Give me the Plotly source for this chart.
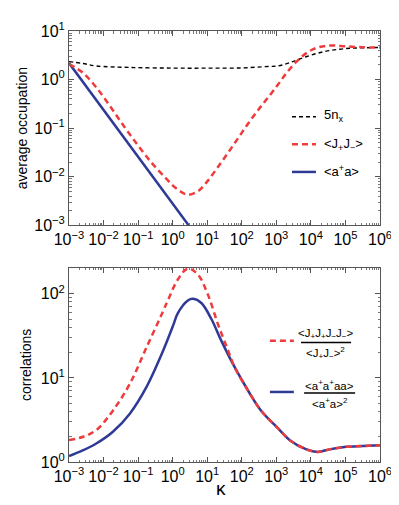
import numpy as np
import plotly.graph_objects as go
from plotly.subplots import make_subplots

# values, as log10 of kappa and log10 of the quantity
# top panel: average occupation
nx_logk = [-3, -2.59, -2.21, -1.24, 0.0, 1.0, 2.0, 2.76, 3.05, 3.39, 3.86, 4.35, 4.83, 5.30, 6.0]
nx_logy = [0.37, 0.33, 0.28, 0.25, 0.236, 0.235, 0.24, 0.27, 0.28, 0.35, 0.47, 0.57, 0.625, 0.65, 0.66]

jj_logk = [-3, -2.6, -2.2, -1.8, -1.4, -1.0, -0.6, -0.2, 0.1, 0.44, 0.75, 1.02, 1.31,
           1.60, 1.89, 2.18, 2.47, 2.76, 3.05, 3.3, 3.6, 3.9, 4.2, 4.55, 5.0, 5.5, 6.0]
jj_logy = [0.32, 0.14, -0.17, -0.56, -0.97, -1.36, -1.72, -2.03, -2.24, -2.37, -2.29, -2.08, -1.80,
           -1.51, -1.21, -0.91, -0.63, -0.37, -0.10, 0.14, 0.38, 0.56, 0.66, 0.70, 0.685, 0.665, 0.66]

aa_logk = [-3, -2, -1, 0, 1]
aa_logy = [0.34, -0.63, -1.59, -2.56, -3.52]

# bottom panel: correlations
g2a_logk = [-3, -2.59, -2.21, -1.73, -1.24, -0.76, -0.28, 0.01, 0.15, 0.44, 0.59, 0.83, 1.12,
            1.41, 1.79, 2.18, 2.56, 3.05, 3.39, 3.87, 4.20, 4.54, 5.02, 5.51, 6.0]
g2a_logy = [0.07, 0.14, 0.22, 0.36, 0.575, 0.89, 1.32, 1.62, 1.77, 1.92, 1.94, 1.89, 1.70,
            1.44, 1.13, 0.85, 0.61, 0.40, 0.26, 0.15, 0.12, 0.15, 0.18, 0.19, 0.20]

g2j_logk = [-3, -2.59, -2.21, -1.73, -1.24, -0.76, -0.28, -0.14, 0.15, 0.44, 0.73, 1.02, 1.31,
            1.6, 1.79, 2.18, 2.56, 3.05, 3.39, 3.87, 4.20, 4.54, 5.02, 5.51, 6.0]
g2j_logy = [0.26, 0.30, 0.38, 0.61, 0.93, 1.36, 1.79, 1.92, 2.17, 2.30, 2.23, 1.99, 1.64,
            1.33, 1.13, 0.85, 0.61, 0.40, 0.26, 0.15, 0.12, 0.15, 0.18, 0.19, 0.20]

x_exps = [-3, -2, -1, 0, 1, 2, 3, 4, 5, 6]
top_exps = [-3, -2, -1, 0, 1]
bot_exps = [0, 1, 2]

RED = "#EF3B3B"
BLUE = "#2E3A96"
FONT = "Liberation Sans, Arial, sans-serif"


def p(v):
    return np.power(10.0, v)


def tick_text(exps):
    return ["10<sup>%s</sup>" % str(e).replace("-", "−") for e in exps]


fig = make_subplots(rows=2, cols=1, vertical_spacing=0.0985)

fig.add_trace(go.Scatter(x=p(nx_logk), y=p(nx_logy), mode="lines", line_shape="spline",
                         line=dict(color="black", width=1.4, dash="4px,3px")), row=1, col=1)
fig.add_trace(go.Scatter(x=p(aa_logk), y=p(aa_logy), mode="lines",
                         line=dict(color=BLUE, width=2.5)), row=1, col=1)
fig.add_trace(go.Scatter(x=p(jj_logk), y=p(jj_logy), mode="lines", line_shape="spline",
                         line=dict(color=RED, width=2.5, dash="6px,4px")), row=1, col=1)

fig.add_trace(go.Scatter(x=p(g2a_logk), y=p(g2a_logy), mode="lines", line_shape="spline",
                         line=dict(color=BLUE, width=2.5)), row=2, col=1)
fig.add_trace(go.Scatter(x=p(g2j_logk), y=p(g2j_logy), mode="lines", line_shape="spline",
                         line=dict(color=RED, width=2.5, dash="6px,4px")), row=2, col=1)

axis_style = dict(type="log", showgrid=False, zeroline=False, showline=True, mirror="ticks",
                  linecolor="#555", linewidth=1, ticks="inside", ticklen=5, tickcolor="#555",
                  tickangle=0,
                  tickfont=dict(family=FONT, size=16, color="black"),
                  minor=dict(ticks="inside", ticklen=2.5, tickcolor="#777", showgrid=False, dtick="D1"))

fig.update_xaxes(**axis_style, range=[-3, 6],
                 tickvals=p(x_exps), ticktext=tick_text(x_exps))
fig.update_yaxes(**axis_style)
fig.update_yaxes(range=[-3, 1], row=1, col=1, tickvals=p(top_exps), ticktext=tick_text(top_exps),
                 title=dict(text="average occupation", font=dict(family=FONT, size=14, color="black"),
                            standoff=3))
fig.update_yaxes(range=[0, 2.31], row=2, col=1, tickvals=p(bot_exps), ticktext=tick_text(bot_exps),
                 title=dict(text="correlations", font=dict(family=FONT, size=14, color="black"),
                            standoff=5))


# hand-made legends
def key(x0, x1, y, color, width, dash):
    fig.add_shape(type="line", xref="paper", yref="paper", x0=x0, x1=x1, y0=y, y1=y,
                  line=dict(color=color, width=width, dash=dash))


def label(x, y, text, size=13, anchor="left"):
    fig.add_annotation(xref="paper", yref="paper", x=x, y=y, text=text, showarrow=False,
                       xanchor=anchor, yanchor="middle",
                       font=dict(family=FONT, size=size, color="black"))


key(0.717, 0.794, 0.801, "black", 1.4, "4px,3px")
key(0.717, 0.794, 0.737, RED, 2.5, "6px,4px")
key(0.717, 0.794, 0.673, BLUE, 2.5, "solid")
label(0.815, 0.805, "5n<sub>x</sub>")
label(0.815, 0.737, "&lt;J<sub>+</sub>J<sub>−</sub>&gt;")
label(0.815, 0.676, "&lt;a<sup>+</sup>a&gt;")

key(0.646, 0.723, 0.2815, RED, 2.5, "6px,4px")
key(0.646, 0.723, 0.1625, BLUE, 2.5, "solid")
label(0.826, 0.296, "&lt;J<sub>+</sub>J<sub>+</sub>J<sub>−</sub>J<sub>−</sub>&gt;", 11.5, "center")
fig.add_shape(type="line", xref="paper", yref="paper", x0=0.746, x1=0.907, y0=0.277, y1=0.277,
              line=dict(color="black", width=1.5))
label(0.826, 0.254, "&lt;J<sub>+</sub>J<sub>−</sub>&gt;<sup>2</sup>", 11.5, "center")
label(0.838, 0.178, "&lt;a<sup>+</sup>a<sup>+</sup>aa&gt;", 11.5, "center")
fig.add_shape(type="line", xref="paper", yref="paper", x0=0.756, x1=0.920, y0=0.160, y1=0.160,
              line=dict(color="black", width=1.5))
label(0.838, 0.138, "&lt;a<sup>+</sup>a&gt;<sup>2</sup>", 11.5, "center")

# x-axis label of the lower panel
label(0.49, -0.062, "κ", 19, "center")

fig.update_layout(width=399, height=505, showlegend=False,
                  margin=dict(l=61, r=27, t=17, b=51),
                  plot_bgcolor="white", paper_bgcolor="white",
                  font=dict(family=FONT, color="black"))

fig.write_html("out.html")
